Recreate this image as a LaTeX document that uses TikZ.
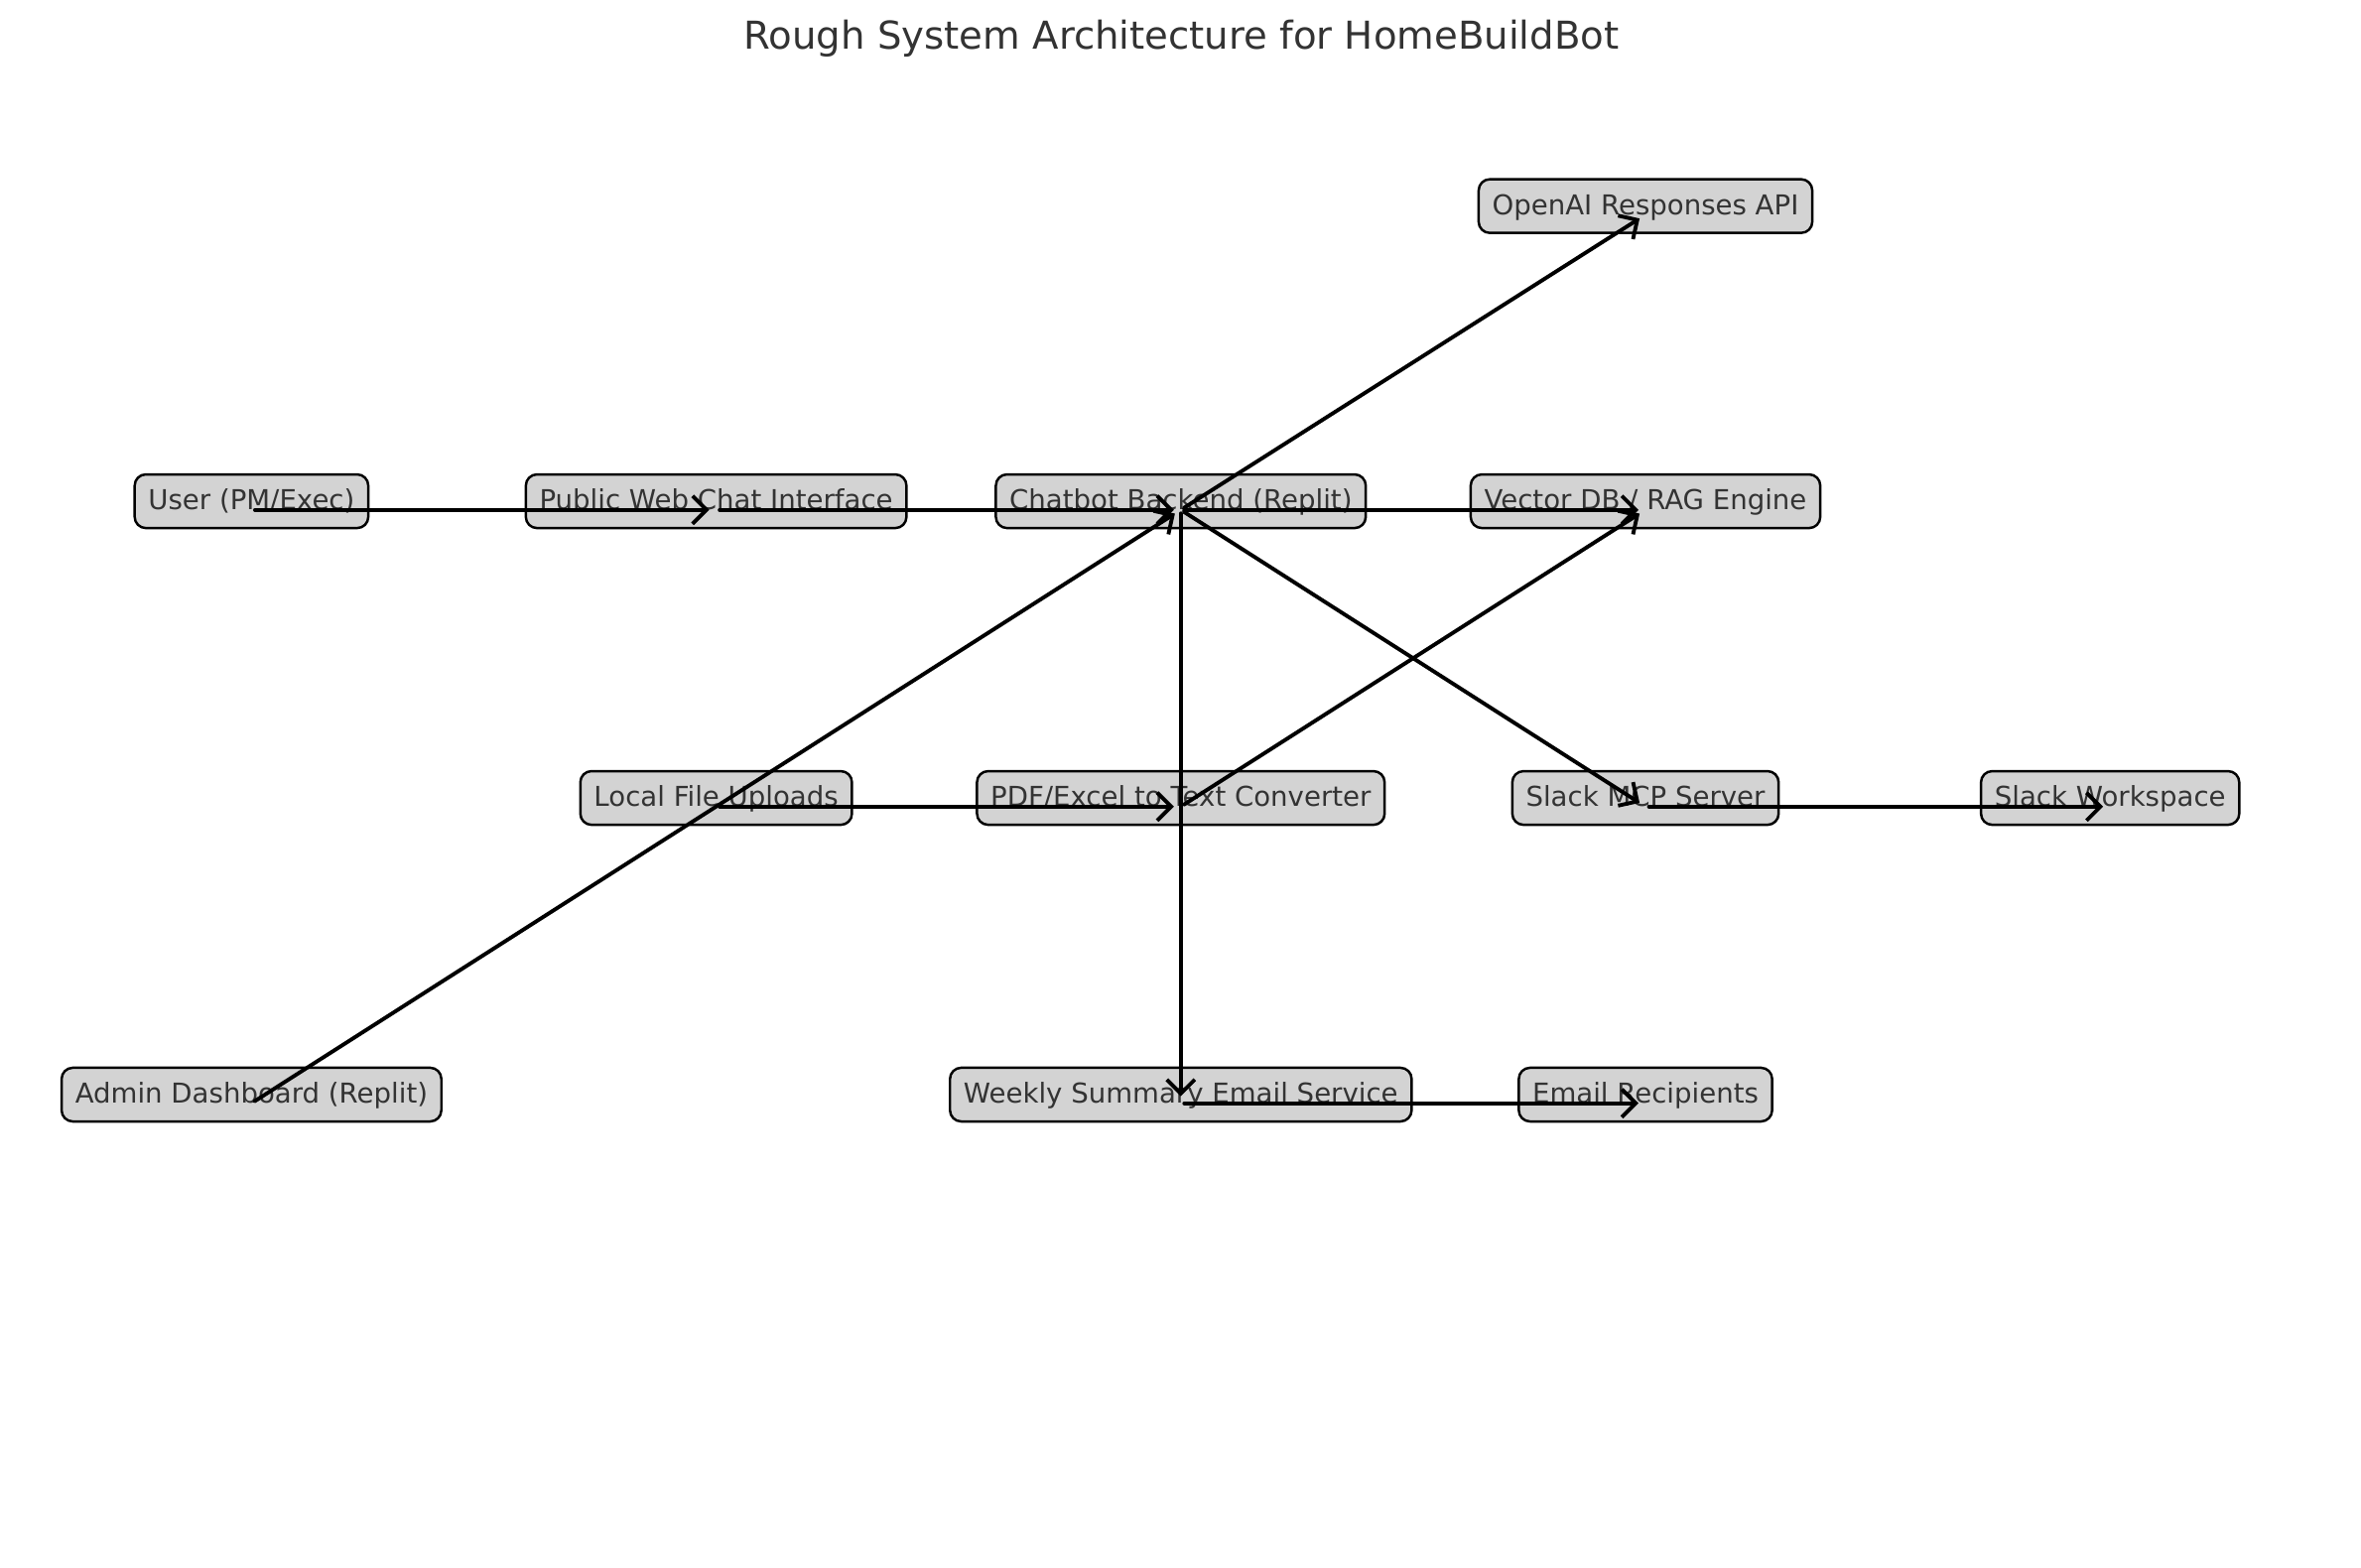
\documentclass[tikz,border=0pt]{standalone}
\usepackage{fontspec}
\setmainfont{DejaVu Sans}
\usetikzlibrary{arrows.meta}
\definecolor{boxfill}{HTML}{D3D3D3}
\definecolor{ink}{HTML}{333333}
\tikzset{
  box/.style={draw=black, line width=0.7pt, fill=boxfill, rounded corners=3.2pt,
    text=ink, font=\fontsize{7.85}{9}\selectfont, text height=7.07pt, text depth=2.12pt,
    inner xsep=3.9pt, inner ysep=3.1pt, anchor=base},
  link/.style={->, line width=1.1pt, shorten <=1pt, shorten >=2pt}
}
\begin{document}
\begin{tikzpicture}[>={Straight Barb[length=4pt,width=8pt]}, line join=round, line cap=round]
  \useasboundingbox (0,0) rectangle (23.79,15.80);
  % columns 2.534 + 4.682*i, rows 13.636 / 10.662 / 7.672 / 4.683
  \node[anchor=base, text=ink, font=\fontsize{11}{13}\selectfont] (title) at (11.905,15.30)
    {Rough System Architecture for HomeBuildBot};
  \node[box] (openai) at (16.58,13.636) {OpenAI Responses API};
  \node[box] (user) at (2.534,10.662) {User (PM/Exec)};
  \node[box] (web) at (7.216,10.662) {Public Web Chat Interface};
  \node[box] (backend) at (11.898,10.662) {Chatbot Backend (Replit)};
  \node[box] (vector) at (16.58,10.662) {Vector DB / RAG Engine};
  \node[box] (uploads) at (7.216,7.672) {Local File Uploads};
  \node[box] (convert) at (11.898,7.672) {PDF/Excel to Text Converter};
  \node[box] (mcp) at (16.58,7.672) {Slack MCP Server};
  \node[box] (slack) at (21.262,7.672) {Slack Workspace};
  \node[box] (admin) at (2.534,4.683) {Admin Dashboard (Replit)};
  \node[box] (weekly) at (11.898,4.683) {Weekly Summary Email Service};
  \node[box] (mail) at (16.58,4.683) {Email Recipients};
  % arrows between the base points
  \foreach \a/\b in {user/web, web/backend, backend/vector, backend/openai, backend/mcp,
    backend/weekly, uploads/convert, convert/vector, mcp/slack, admin/backend, weekly/mail}
    \draw[link] (\a.base) -- (\b.base);
\end{tikzpicture}
\end{document}
